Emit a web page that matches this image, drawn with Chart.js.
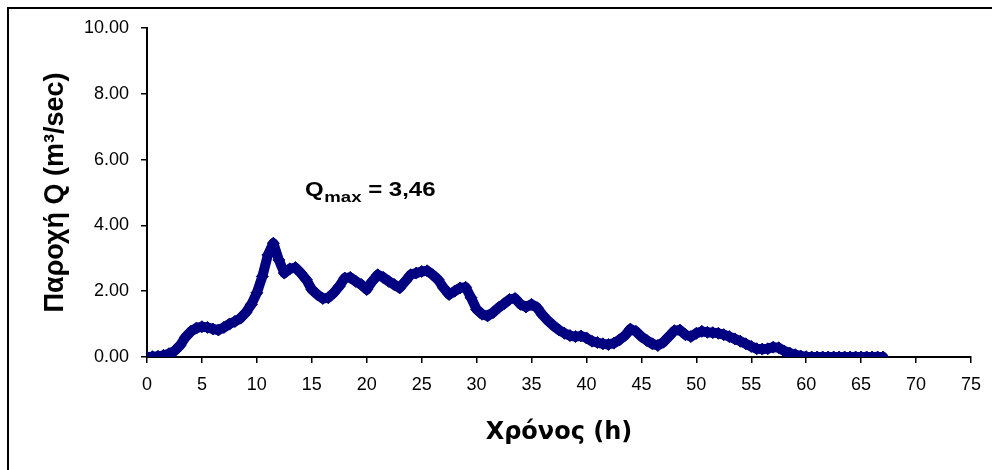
<!DOCTYPE html>
<html>
<head>
<meta charset="utf-8">
<script src="https://cdn.jsdelivr.net/npm/chart.js@4.4.1/dist/chart.umd.min.js"></script>
<style>
    html, body { margin: 0; padding: 0; background: #fff; }
    #wrap { position: relative; width: 992px; height: 470px; }
    #frame { position: absolute; left: 7px; top: 7px; width: 1000px; height: 500px; border: 2px solid #000; box-sizing: border-box; pointer-events: none; }
</style>
</head>
<body>
<div id="wrap">
    <canvas id="flowChart" width="992" height="470"></canvas>
    <div id="frame"></div>
</div>
<script>
// ===============================
// DATA (hydrograph)
// ===============================

const hours = [
    0, 0.5, 1, 1.5, 2, 2.5, 3, 3.5, 4, 4.5, 5, 5.5, 6, 6.5, 7, 7.5, 8, 8.5, 9, 9.5,
    10, 10.5, 11, 11.5, 12, 12.5, 13, 13.5, 14, 14.5, 15, 15.5, 16, 16.5, 17, 17.5, 18, 18.5, 19, 19.5,
    20, 20.5, 21, 21.5, 22, 22.5, 23, 23.5, 24, 24.5, 25, 25.5, 26, 26.5, 27, 27.5, 28, 28.5, 29, 29.5,
    30, 30.5, 31, 31.5, 32, 32.5, 33, 33.5, 34, 34.5, 35, 35.5, 36, 36.5, 37, 37.5, 38, 38.5, 39, 39.5,
    40, 40.5, 41, 41.5, 42, 42.5, 43, 43.5, 44, 44.5, 45, 45.5, 46, 46.5, 47, 47.5, 48, 48.5, 49, 49.5,
    50, 50.5, 51, 51.5, 52, 52.5, 53, 53.5, 54, 54.5, 55, 55.5, 56, 56.5, 57, 57.5, 58, 58.5, 59, 59.5,
    60, 60.5, 61, 61.5, 62, 62.5, 63, 63.5, 64, 64.5, 65, 65.5, 66, 66.5, 67
];

const discharge = [
    0.00, 0.01, 0.02, 0.05, 0.10, 0.18, 0.35, 0.60, 0.78, 0.88, 0.92, 0.90, 0.85, 0.82, 0.90, 1.00, 1.08, 1.18, 1.35, 1.60,
    1.95, 2.45, 3.10, 3.46, 2.95, 2.55, 2.68, 2.72, 2.55, 2.35, 2.05, 1.90, 1.78, 1.80, 1.95, 2.15, 2.40, 2.42, 2.30, 2.20,
    2.05, 2.30, 2.50, 2.42, 2.30, 2.20, 2.10, 2.30, 2.50, 2.55, 2.60, 2.62, 2.50, 2.35, 2.10, 1.90, 2.00, 2.10, 2.12, 1.80,
    1.45, 1.30, 1.25, 1.35, 1.50, 1.62, 1.75, 1.78, 1.60, 1.52, 1.60, 1.50, 1.28, 1.10, 0.95, 0.82, 0.72, 0.65, 0.62, 0.64,
    0.58, 0.48, 0.44, 0.40, 0.38, 0.42, 0.52, 0.65, 0.85, 0.78, 0.62, 0.50, 0.40, 0.35, 0.45, 0.62, 0.80, 0.82, 0.68, 0.62,
    0.72, 0.78, 0.75, 0.74, 0.72, 0.68, 0.62, 0.55, 0.48, 0.40, 0.32, 0.25, 0.24, 0.25, 0.30, 0.28, 0.18, 0.12, 0.07, 0.03,
    0.01, 0.00, 0.00, 0.00, 0.00, 0.00, 0.00, 0.00, 0.00, 0.00, 0.00, 0.00, 0.00, 0.00, 0.00
];

const xTicks = [0, 5, 10, 15, 20, 25, 30, 35, 40, 45, 50, 55, 60, 65, 70, 75];
const yTicks = [0, 2, 4, 6, 8, 10];

const qMaxLabel = "3,46";

// ===============================
// Qmax annotation (Q with subscript "max")
// ===============================

const qmaxPlugin = {
    id: "qmaxLabel",
    afterDraw: function (chart) {
        const ctx = chart.ctx;
        const stretch = 1.2;
        ctx.save();
        ctx.fillStyle = "#000";
        ctx.textBaseline = "alphabetic";
        ctx.textAlign = "left";
        // the original text is a bit wider than Arial, so stretch it sideways
        ctx.translate(305, 196);
        ctx.scale(stretch, 1);

        let x = 0;
        ctx.font = "bold 20px 'Liberation Sans', Arial, sans-serif";
        ctx.fillText("Q", x, 0);
        x += ctx.measureText("Q").width + 0.5;

        ctx.font = "bold 15.5px 'Liberation Sans', Arial, sans-serif";
        ctx.fillText("max", x, 6);
        x += ctx.measureText("max").width;

        ctx.font = "bold 20px 'Liberation Sans', Arial, sans-serif";
        ctx.fillText(" = " + qMaxLabel, x, 0);
        ctx.restore();
    }
};

const points = hours.map(function (h, i) {
    return { x: h, y: discharge[i] };
});

new Chart(document.getElementById("flowChart"), {
    type: "scatter",
    data: {
        datasets: [
            {
                label: "Q",
                data: points,
                showLine: true,
                borderColor: "#000080",
                borderWidth: 10,
                borderJoinStyle: "round",
                borderCapStyle: "round",
                backgroundColor: "#000080",
                pointStyle: "rectRot",
                pointRadius: 6,
                pointBorderWidth: 1,
                pointBorderColor: "#000080",
                pointBackgroundColor: "#000080",
                tension: 0
            }
        ]
    },
    plugins: [qmaxPlugin],
    options: {
        responsive: false,
        animation: false,
        events: [],
        layout: {
            padding: { left: 8, top: 28, right: 16, bottom: 10 }
        },
        plugins: {
            legend: { display: false },
            tooltip: { enabled: false }
        },
        scales: {
            x: {
                type: "linear",
                min: 0,
                max: 75,
                afterBuildTicks: function (scale) {
                    scale.ticks = xTicks.map(function (v) { return { value: v }; });
                },
                afterFit: function (scale) {
                    scale.height = 103;
                },
                ticks: {
                    color: "#000",
                    padding: 11,
                    maxRotation: 0,
                    autoSkip: false,
                    font: { family: "'Liberation Sans', Arial, sans-serif", size: 18 }
                },
                grid: {
                    drawOnChartArea: false,
                    drawTicks: true,
                    tickLength: 6,
                    color: "#000",
                    lineWidth: 1.5
                },
                border: { display: true, color: "#000", width: 2 },
                title: {
                    display: true,
                    text: "Χρόνος (h)",
                    color: "#000",
                    padding: { top: 0, bottom: 13 },
                    font: { family: "'DejaVu Sans', sans-serif", size: 24, weight: "bold" }
                }
            },
            y: {
                min: 0,
                max: 10,
                afterBuildTicks: function (scale) {
                    scale.ticks = yTicks.map(function (v) { return { value: v }; });
                },
                afterFit: function (scale) {
                    scale.width = 139;
                },
                ticks: {
                    color: "#000",
                    padding: 12,
                    font: { family: "'Liberation Sans', Arial, sans-serif", size: 18 },
                    callback: function (value) {
                        return Number(value).toFixed(2);
                    }
                },
                grid: {
                    drawOnChartArea: false,
                    drawTicks: true,
                    tickLength: 6,
                    color: "#000",
                    lineWidth: 1.5
                },
                border: { display: true, color: "#000", width: 2 },
                title: {
                    display: true,
                    text: "Παροχή Q (m³/sec)",
                    color: "#000",
                    padding: { top: 31, bottom: 0 },
                    font: { family: "'Liberation Sans', Arial, sans-serif", size: 27, weight: "bold" }
                }
            }
        }
    }
});
</script>
</body>
</html>
